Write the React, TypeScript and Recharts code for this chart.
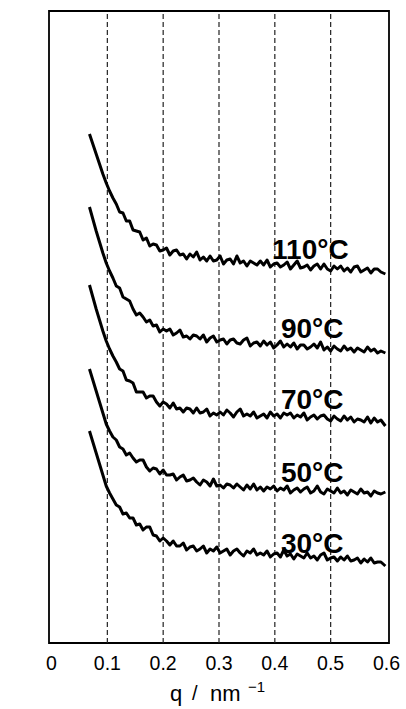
import React from "react";
import {
  LineChart,
  Line,
  XAxis,
  YAxis,
  ReferenceLine,
  ReferenceDot,
  ReferenceArea,
  Label,
} from "recharts";

// q in nm^-1
const qValues = [
  0.068, 0.074, 0.08, 0.086, 0.092, 0.098, 0.104, 0.11, 0.116, 0.122,
  0.128, 0.134, 0.14, 0.146, 0.152, 0.158, 0.164, 0.17, 0.176, 0.182,
  0.188, 0.194, 0.2, 0.206, 0.212, 0.218, 0.224, 0.23, 0.236, 0.242,
  0.248, 0.254, 0.26, 0.266, 0.272, 0.278, 0.284, 0.29, 0.296, 0.302,
  0.308, 0.314, 0.32, 0.326, 0.332, 0.338, 0.344, 0.35, 0.356, 0.362,
  0.368, 0.374, 0.38, 0.386, 0.392, 0.398, 0.404, 0.41, 0.416, 0.422,
  0.428, 0.434, 0.44, 0.446, 0.452, 0.458, 0.464, 0.47, 0.476, 0.482,
  0.488, 0.494, 0.5, 0.506, 0.512, 0.518, 0.524, 0.53, 0.536, 0.542,
  0.548, 0.554, 0.56, 0.566, 0.572, 0.578, 0.584, 0.59, 0.598,
];

// log intensity (arbitrary units, curves offset vertically)
const logI110 = [
  509, 499, 489, 479, 469, 460, 452, 445, 439, 431,
  430, 422, 422, 413, 412, 411, 403, 405, 397, 399,
  398, 392, 393, 395, 388, 392, 393, 388, 389, 384,
  389, 386, 391, 383, 386, 382, 387, 382, 383, 387,
  379, 383, 384, 379, 387, 380, 382, 377, 382, 380,
  378, 382, 378, 383, 376, 379, 380, 376, 378, 381,
  374, 378, 382, 375, 376, 378, 373, 377, 379, 374,
  379, 374, 372, 377, 374, 377, 372, 375, 371, 376,
  377, 371, 373, 375, 370, 374, 374, 371, 369,
];
const logI90 = [
  436, 424, 412, 401, 390, 380, 372, 365, 357, 355,
  346, 344, 342, 334, 328, 330, 326, 321, 323, 317,
  318, 311, 314, 312, 314, 308, 310, 313, 306, 307,
  304, 308, 307, 304, 308, 301, 305, 307, 301, 303,
  304, 299, 303, 304, 300, 299, 303, 305, 297, 300,
  301, 297, 302, 298, 301, 295, 298, 302, 296, 299,
  296, 300, 294, 298, 298, 294, 296, 299, 295, 301,
  293, 296, 292, 297, 294, 292, 297, 293, 295, 291,
  295, 293, 291, 296, 292, 294, 290, 292, 290,
];
const logI70 = [
  358, 346, 334, 323, 312, 302, 294, 287, 281, 274,
  272, 263, 262, 260, 251, 251, 251, 245, 247, 247,
  241, 237, 241, 239, 235, 240, 234, 235, 231, 235,
  234, 230, 235, 230, 231, 234, 227, 230, 228, 231,
  228, 233, 230, 226, 231, 234, 227, 229, 227, 231,
  225, 227, 229, 225, 231, 227, 229, 225, 230, 228,
  230, 225, 228, 226, 230, 223, 226, 228, 224, 227,
  228, 224, 222, 227, 224, 222, 227, 223, 226, 221,
  224, 223, 221, 226, 220, 225, 221, 223, 217,
];
const logI50 = [
  274, 263, 252, 241, 230, 219, 212, 206, 203, 196,
  194, 188, 190, 185, 181, 183, 183, 176, 172, 175,
  174, 169, 173, 168, 168, 169, 163, 166, 168, 162,
  163, 165, 161, 158, 163, 161, 157, 164, 157, 158,
  155, 159, 158, 155, 159, 156, 153, 158, 154, 159,
  153, 156, 152, 156, 154, 157, 152, 155, 153, 157,
  150, 153, 155, 151, 154, 156, 150, 152, 157, 151,
  149, 154, 152, 150, 155, 150, 152, 148, 153, 151,
  149, 154, 150, 151, 147, 152, 150, 149, 151,
];
const logI30 = [
  212, 201, 190, 179, 168, 157, 150, 144, 138, 136,
  129, 130, 125, 125, 118, 119, 113, 116, 116, 108,
  107, 102, 105, 102, 98, 102, 97, 97, 100, 93,
  96, 97, 92, 94, 97, 90, 94, 92, 96, 90,
  92, 94, 88, 92, 94, 90, 87, 92, 90, 94,
  88, 90, 88, 92, 86, 89, 90, 86, 93, 87,
  89, 84, 89, 87, 85, 90, 85, 87, 83, 88,
  90, 83, 85, 86, 82, 86, 83, 87, 82, 83,
  85, 80, 84, 81, 85, 80, 81, 81, 77,
];

const seriesKeys = ["t110", "t90", "t70", "t50", "t30"];
const tempLabels = ["110°C", "90°C", "70°C", "50°C", "30°C"];
const xTicks = [0, 0.1, 0.2, 0.3, 0.4, 0.5, 0.6];
const gridQ = [0.1, 0.2, 0.3, 0.4, 0.5];

// where each temperature label sits (q, logI of baseline)
const labelQ = [0.395, 0.411, 0.411, 0.411, 0.411];
const labelY = [384, 305, 234, 161, 90];

const X_MIN = -0.0045;
const X_MAX = 0.6045;
const Y_MAX = 632;

const data = qValues.map((q, i) => ({
  q,
  t110: logI110[i],
  t90: logI90[i],
  t70: logI70[i],
  t50: logI50[i],
  t30: logI30[i],
}));

const FONT = "'Liberation Sans', Arial, sans-serif";

export default function App() {
  return (
    <div
      style={{
        position: "absolute",
        left: 0,
        top: 0,
        width: 406,
        height: 709,
        background: "#fff",
      }}
    >
      <LineChart
        width={406}
        height={709}
        data={data}
        margin={{ top: 11, right: 17, bottom: 36, left: 49 }}
      >
        <XAxis
          dataKey="q"
          type="number"
          domain={[X_MIN, X_MAX]}
          ticks={xTicks}
          interval={0}
          height={30}
          axisLine={false}
          tickLine={false}
          tickSize={6}
          tickMargin={7}
          tick={{ fontSize: 19.5, fill: "#000", fontFamily: FONT }}
        >
          <Label
            content={() => (
              <text fontFamily={FONT} fill="#000">
                <tspan x={170} y={701} fontSize={22}>
                  q
                </tspan>
                <tspan x={192} y={700} fontSize={20}>
                  /
                </tspan>
                <tspan x={210} y={701} fontSize={22}>
                  nm
                </tspan>
                <tspan x={248} y={692} fontSize={15}>
                  −1
                </tspan>
              </text>
            )}
          />
        </XAxis>
        <YAxis
          type="number"
          domain={[0, Y_MAX]}
          width={0}
          tick={false}
          tickLine={false}
          axisLine={false}
        >
          <Label
            content={() => (
              <text
                x={36}
                y={333}
                transform="rotate(-90 36 333)"
                textAnchor="middle"
                fontSize={20}
                fontFamily={FONT}
                fill="#000"
              >
                Log I (a.u)
              </text>
            )}
          />
        </YAxis>
        {gridQ.map((g) => (
          <ReferenceLine
            key={g}
            x={g}
            stroke="#222"
            strokeWidth={1.2}
            strokeDasharray="5 3"
          />
        ))}
        <ReferenceArea
          x1={X_MIN}
          x2={X_MAX}
          y1={0}
          y2={Y_MAX}
          fill="none"
          fillOpacity={0}
          stroke="#000"
          strokeWidth={1.8}
        />
        {seriesKeys.map((k) => (
          <Line
            key={k}
            dataKey={k}
            type="linear"
            stroke="#000"
            strokeWidth={3}
            strokeLinejoin="round"
            dot={false}
            activeDot={false}
            isAnimationActive={false}
          />
        ))}
        {tempLabels.map((t, i) => (
          <ReferenceDot
            key={t}
            x={labelQ[i]}
            y={labelY[i]}
            r={0}
            shape={(p: any) => (
              <text
                x={p.cx}
                y={p.cy}
                fontSize={28}
                fontWeight="bold"
                fontFamily={FONT}
                fill="#000"
              >
                {t}
              </text>
            )}
          />
        ))}
      </LineChart>
    </div>
  );
}
